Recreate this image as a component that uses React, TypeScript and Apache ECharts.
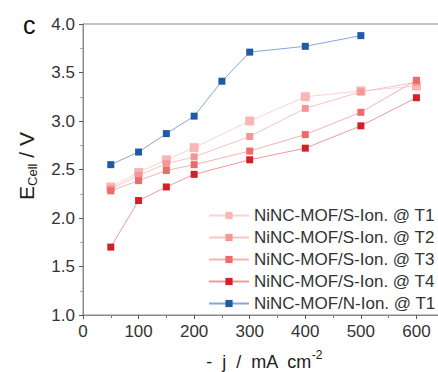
import React, { useEffect, useRef } from "react";
import * as echarts from "echarts";

const currentNIon = [50, 100, 150, 200, 250, 300, 400, 500];
const ecellNIonT1 = [2.55, 2.68, 2.87, 3.05, 3.41, 3.71, 3.77, 3.88];

const currentSIon = [50, 100, 150, 200, 300, 400, 500, 600];
const ecellSIonT1 = [2.32, 2.47, 2.6, 2.725, 3.0, 3.25, 3.31, 3.36];
const ecellSIonT2 = [2.3, 2.44, 2.56, 2.63, 2.84, 3.13, 3.3, 3.4];
const ecellSIonT3 = [2.28, 2.385, 2.49, 2.55, 2.69, 2.86, 3.09, 3.42];
const ecellSIonT4 = [1.7, 2.18, 2.32, 2.45, 2.6, 2.72, 2.95, 3.24];

const seriesNames = [
  "NiNC-MOF/S-Ion. @ T1",
  "NiNC-MOF/S-Ion. @ T2",
  "NiNC-MOF/S-Ion. @ T3",
  "NiNC-MOF/S-Ion. @ T4",
  "NiNC-MOF/N-Ion. @ T1",
];

const FONT = "Liberation Sans, Arial, sans-serif";

function pairs(xs: number[], ys: number[]) {
  return xs.map((x, i) => [x, ys[i]]);
}

export default function App() {
  const ref = useRef<HTMLDivElement>(null);
  useEffect(() => {
    if (!ref.current) return;
    const chart = echarts.init(ref.current, null, { renderer: "svg" });
    const mk = (
      name: string,
      xs: number[],
      ys: number[],
      marker: string,
      line: string,
      size: number
    ) => ({
      name,
      type: "line",
      data: pairs(xs, ys),
      symbol: "rect",
      symbolSize: size,
      itemStyle: { color: marker },
      lineStyle: { color: line, width: 1 },
      z: 3,
    });
    chart.setOption({
      animation: false,
      textStyle: { fontFamily: FONT },
      grid: {
        left: 83,
        top: 24,
        width: 389,
        height: 291,
        outerBoundsMode: "none",
        containLabel: false,
        show: true,
        borderColor: "#8a8a8a",
        borderWidth: 1,
        backgroundColor: "transparent",
      },
      xAxis: {
        type: "value",
        min: 0,
        max: 700,
        interval: 100,
        axisLine: { show: true, lineStyle: { color: "#8a8a8a", width: 1 } },
        axisTick: { show: true, inside: false, length: 4, lineStyle: { color: "#555" } },
        minorTick: { show: true, splitNumber: 2, length: 3, lineStyle: { color: "#777" } },
        splitLine: { show: false },
        axisLabel: {
          fontSize: 17,
          color: "#333",
          margin: 8,
          fontFamily: FONT,
          showMaxLabel: false,
        },
      },
      yAxis: {
        type: "value",
        min: 1,
        max: 4,
        interval: 0.5,
        axisLine: { show: true, lineStyle: { color: "#8a8a8a", width: 1 } },
        axisTick: { show: true, inside: false, length: 4, lineStyle: { color: "#555" } },
        minorTick: { show: true, splitNumber: 2, length: 3, lineStyle: { color: "#aaa" } },
        splitLine: { show: false },
        axisLabel: {
          fontSize: 17,
          color: "#333",
          margin: 8,
          fontFamily: FONT,
          formatter: (v: number) => v.toFixed(1),
        },
      },
      legend: {
        orient: "vertical",
        left: 208,
        top: 207,
        padding: 0,
        itemWidth: 40,
        itemHeight: 9,
        itemGap: 5,
        textStyle: { fontSize: 17, lineHeight: 17, color: "#333", fontFamily: FONT, padding: [0, 0, 0, 0] },
        data: seriesNames,
      },
      series: [
        mk(seriesNames[0], currentSIon, ecellSIonT1, "#f9b6b6", "#fbd3d3", 9),
        mk(seriesNames[1], currentSIon, ecellSIonT2, "#f49696", "#f8c4c4", 7),
        mk(seriesNames[2], currentSIon, ecellSIonT3, "#ef6a6a", "#f5b3b3", 7),
        mk(seriesNames[3], currentSIon, ecellSIonT4, "#d41f29", "#ee9a9a", 7),
        mk(seriesNames[4], currentNIon, ecellNIonT1, "#1f5aa8", "#8aa5d6", 7),
      ],
      graphic: [
        {
          type: "text",
          left: 23,
          top: 12,
          style: { text: "c", fontSize: 25, fill: "#111", fontFamily: FONT },
        },
        {
          type: "text",
          x: 264,
          y: 360,
          style: {
            text: "{t|-  j  /  mA  cm}{s|-2}",
            align: "center",
            verticalAlign: "middle",
            fontFamily: FONT,
            rich: {
              t: { fontSize: 18, fill: "#222", fontFamily: FONT, lineHeight: 22, verticalAlign: "bottom" },
              s: { fontSize: 12, fill: "#222", fontFamily: FONT, lineHeight: 22, verticalAlign: "top", padding: [0, 0, 6, 0] },
            },
          },
        },
        {
          type: "text",
          x: 26,
          y: 166,
          rotation: Math.PI / 2,
          style: {
            text: "{e|E}{s|Cell}{e| / V}",
            align: "center",
            verticalAlign: "middle",
            fontFamily: FONT,
            rich: {
              e: { fontSize: 21, fill: "#222", fontFamily: FONT, lineHeight: 26, verticalAlign: "middle" },
              s: { fontSize: 13, fill: "#222", fontFamily: FONT, lineHeight: 26, verticalAlign: "bottom", padding: [6, 0, 0, 0] },
            },
          },
        },
      ],
    });
    return () => chart.dispose();
  }, []);
  return (
    <div
      ref={ref}
      style={{ position: "fixed", left: 0, top: 0, width: 438, height: 372, background: "#fff" }}
    />
  );
}
